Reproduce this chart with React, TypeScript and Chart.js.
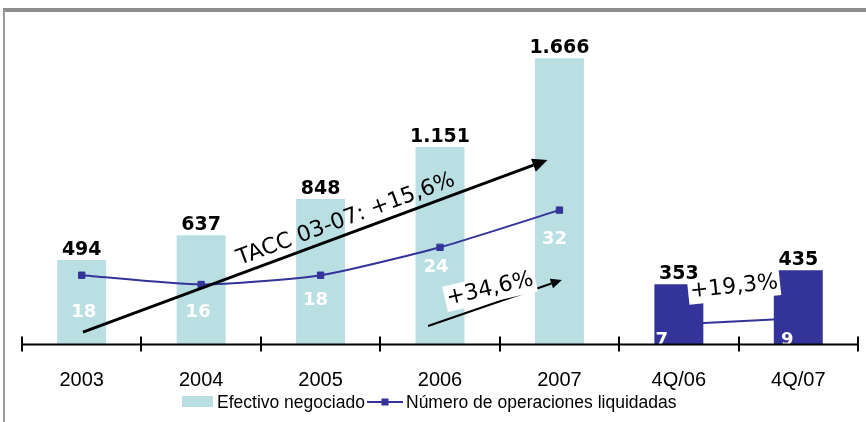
import React, { useEffect, useRef } from 'react';
import { Chart, registerables } from 'chart.js';

Chart.register(...registerables);

// ---- data ----
const categories = ['2003', '2004', '2005', '2006', '2007', '4Q/06', '4Q/07'];
const efectivoAnual = [494, 637, 848, 1151, 1666, null, null];
const efectivoTrimestral = [null, null, null, null, null, 353, 435];
const operaciones = [18, 16, 18, 24, 32, 7.45, 8.75];
const legendLabels = ['Efectivo negociado', 'Número de operaciones liquidadas'];
const annotationTexts = ['TACC 03-07: +15,6%', '+34,6%', '+19,3%'];

// ---- styles ----
const LIGHT = '#B9DFE3';
const NAVY = '#333399';
const opLabelDx = [2, -3, -5, -4, -5, -17, -11];
const opLabelDy = [37, 28, 25, 20, 29, 16, 22];

// annotation anchors in data space: [category index, primary-axis value]
const bigArrow = { from: [0.01, 75], to: [3.9, 1075] };
const smallArrow = { from: [2.9, 110], to: [4.02, 378] };
const bigText = { at: [2.213, 729] };
const midText = { at: [3.419, 325], angle: -13 };
const quarterText = { at: [5.462, 337], angle: -6 };

const fmt = (v: number) => String(v).replace(/\B(?=(\d{3})+(?!\d))/g, '.');

function drawArrow(ctx: CanvasRenderingContext2D, x1: number, y1: number, x2: number, y2: number, lw: number, hl: number, hw: number) {
  const a = Math.atan2(y2 - y1, x2 - x1);
  const bx = x2 - hl * Math.cos(a);
  const by = y2 - hl * Math.sin(a);
  ctx.strokeStyle = '#000';
  ctx.lineWidth = lw;
  ctx.beginPath();
  ctx.moveTo(x1, y1);
  ctx.lineTo(bx, by);
  ctx.stroke();
  ctx.fillStyle = '#000';
  ctx.beginPath();
  ctx.moveTo(x2, y2);
  ctx.lineTo(bx + hw * Math.sin(a), by - hw * Math.cos(a));
  ctx.lineTo(bx - hw * Math.sin(a), by + hw * Math.cos(a));
  ctx.closePath();
  ctx.fill();
}

function rotText(ctx: CanvasRenderingContext2D, text: string, cx: number, cy: number, ang: number, box: boolean) {
  ctx.save();
  ctx.translate(cx, cy);
  ctx.rotate(ang);
  ctx.font = '22px "DejaVu Sans"';
  const w = ctx.measureText(text).width;
  if (box) {
    ctx.fillStyle = '#fff';
    ctx.fillRect(-w / 2 - 2, -13, w + 4, 26);
  }
  ctx.fillStyle = '#000';
  ctx.textAlign = 'center';
  ctx.textBaseline = 'middle';
  ctx.fillText(text, 0, 0);
  ctx.restore();
}

const customPlugin = {
  id: 'customDecor',
  afterDraw(chart: any) {
    const ctx: CanvasRenderingContext2D = chart.ctx;
    const xs = chart.scales.x;
    const ys = chart.scales.y;
    const y2s = chart.scales.y2;
    const area = chart.chartArea;
    const px = (p: number[]) => [xs.getPixelForValue(p[0]), ys.getPixelForValue(p[1])];
    ctx.save();

    // white labels for operaciones
    ctx.font = 'bold 18px "DejaVu Sans"';
    ctx.fillStyle = '#fff';
    ctx.textAlign = 'center';
    ctx.textBaseline = 'middle';
    operaciones.forEach((v, i) => {
      const cx = xs.getPixelForValue(i) + opLabelDx[i];
      const cy = y2s.getPixelForValue(v) + opLabelDy[i];
      ctx.fillText(String(Math.round(v)), cx, cy);
    });

    // annotations
    const [a1x, a1y] = px(bigArrow.from);
    const [a2x, a2y] = px(bigArrow.to);
    drawArrow(ctx, a1x, a1y, a2x, a2y, 3, 15, 7);
    const bigAng = Math.atan2(a2y - a1y, a2x - a1x);
    const [t1x, t1y] = px(bigText.at);
    rotText(ctx, annotationTexts[0], t1x, t1y, bigAng, false);

    const [b1x, b1y] = px(smallArrow.from);
    const [b2x, b2y] = px(smallArrow.to);
    drawArrow(ctx, b1x, b1y, b2x, b2y, 2, 11, 5);
    const [t2x, t2y] = px(midText.at);
    rotText(ctx, annotationTexts[1], t2x, t2y, (midText.angle * Math.PI) / 180, true);
    const [t3x, t3y] = px(quarterText.at);
    rotText(ctx, annotationTexts[2], t3x, t3y, (quarterText.angle * Math.PI) / 180, true);

    // bar value labels
    ctx.font = 'bold 19px "DejaVu Sans"';
    ctx.fillStyle = '#000';
    ctx.textAlign = 'center';
    ctx.textBaseline = 'alphabetic';
    categories.forEach((_, i) => {
      const v = efectivoAnual[i] ?? efectivoTrimestral[i];
      if (v == null) return;
      ctx.fillText(fmt(v), xs.getPixelForValue(i), ys.getPixelForValue(v) - 5);
    });

    // category axis line and tick marks
    const base = area.bottom - 0.5;
    ctx.strokeStyle = '#000';
    ctx.lineWidth = 2;
    ctx.beginPath();
    ctx.moveTo(area.left, base);
    ctx.lineTo(area.right, base);
    ctx.stroke();
    for (let i = 0; i <= categories.length; i++) {
      const tx = Math.round(xs.getPixelForValue(i - 0.5));
      ctx.beginPath();
      ctx.moveTo(tx, base - 8);
      ctx.lineTo(tx, base + 7);
      ctx.stroke();
    }

    // tick labels
    ctx.font = '20px "Liberation Sans"';
    ctx.fillStyle = '#000';
    ctx.textAlign = 'center';
    ctx.textBaseline = 'alphabetic';
    categories.forEach((c, i) => ctx.fillText(c, xs.getPixelForValue(i), 386));

    // legend
    ctx.font = '17.5px "Liberation Sans"';
    ctx.textAlign = 'left';
    ctx.fillStyle = LIGHT;
    ctx.fillRect(182, 396, 31, 11);
    ctx.fillStyle = '#000';
    ctx.fillText(legendLabels[0], 217, 408);
    ctx.strokeStyle = NAVY;
    ctx.lineWidth = 2;
    ctx.beginPath();
    ctx.moveTo(367, 402);
    ctx.lineTo(403, 402);
    ctx.stroke();
    ctx.fillStyle = NAVY;
    ctx.fillRect(381.5, 398.5, 7, 7);
    ctx.fillStyle = '#000';
    ctx.fillText(legendLabels[1], 406, 408);

    // frame lines
    ctx.fillStyle = '#8e8e8e';
    ctx.fillRect(3, 8, 863, 4);
    ctx.fillStyle = '#9a9a9a';
    ctx.fillRect(3, 10, 2, 412);

    ctx.restore();
  },
};

export default function App() {
  const ref = useRef<HTMLCanvasElement | null>(null);
  useEffect(() => {
    if (!ref.current) return;
    const opsAnual = operaciones.map((v, i) => (i < 5 ? v : null));
    const opsTrim = operaciones.map((v, i) => (i >= 5 ? v : null));
    const lineStyle = {
      type: 'line' as const,
      yAxisID: 'y2',
      borderColor: NAVY,
      backgroundColor: NAVY,
      borderWidth: 2,
      pointStyle: 'rect' as const,
      pointRadius: 4.5,
      pointBorderWidth: 1,
      pointBackgroundColor: NAVY,
      pointBorderColor: NAVY,
      tension: 0.2,
      spanGaps: false,
      order: 2,
    };
    const chart = new Chart(ref.current, {
      type: 'bar',
      data: {
        labels: categories,
        datasets: [
          {
            label: legendLabels[0],
            data: efectivoAnual,
            backgroundColor: LIGHT,
            yAxisID: 'y',
            barPercentage: 0.41,
            categoryPercentage: 1,
            grouped: false,
            order: 3,
          } as any,
          { ...lineStyle, label: legendLabels[1], data: opsAnual } as any,
          { ...lineStyle, label: legendLabels[1] + ' (4Q)', data: opsTrim } as any,
          {
            label: legendLabels[0] + ' (4Q)',
            data: efectivoTrimestral,
            backgroundColor: NAVY,
            yAxisID: 'y',
            barPercentage: 0.41,
            categoryPercentage: 1,
            grouped: false,
            order: 1,
          } as any,
        ],
      },
      options: {
        responsive: false,
        animation: false,
        devicePixelRatio: 1,
        layout: { padding: { left: 22, right: 8, top: 18, bottom: 77 } },
        plugins: { legend: { display: false }, tooltip: { enabled: false }, title: { display: false } },
        scales: {
          x: { display: false, offset: true },
          y: { display: false, min: 0, max: 1900 },
          y2: { display: false, min: 3, max: 73.3 },
        },
      },
      plugins: [customPlugin],
    });
    return () => chart.destroy();
  }, []);
  return (
    <div style={{ position: 'fixed', left: 0, top: 0, width: 866, height: 422, background: '#fff' }}>
      <canvas ref={ref} width={866} height={422} style={{ display: 'block' }} />
    </div>
  );
}
